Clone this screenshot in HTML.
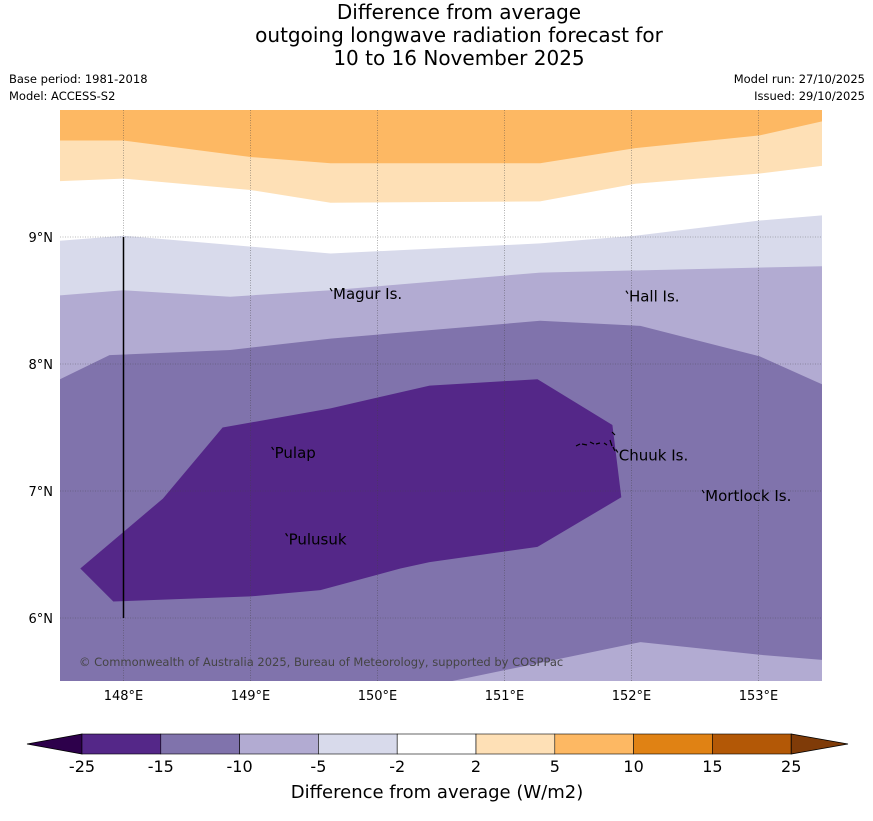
<!DOCTYPE html>
<html><head><meta charset="utf-8"><style>
body{margin:0;background:#fff;font-family:"Liberation Sans",sans-serif;}
svg text{font-family:"DejaVu Sans","Liberation Sans",sans-serif;}
</style></head><body>
<svg width="873" height="816" viewBox="0 0 873 816" xmlns="http://www.w3.org/2000/svg">
<text x="459" y="19" text-anchor="middle" font-size="20">Difference from average</text>
<text x="459" y="42" text-anchor="middle" font-size="20">outgoing longwave radiation forecast for</text>
<text x="459" y="65" text-anchor="middle" font-size="20">10 to 16 November 2025</text>
<text x="9" y="83" font-size="11.5">Base period: 1981-2018</text>
<text x="9" y="100" font-size="11.5">Model: ACCESS-S2</text>
<text x="865" y="83" font-size="11.5" text-anchor="end">Model run: 27/10/2025</text>
<text x="865" y="100" font-size="11.5" text-anchor="end">Issued: 29/10/2025</text>
<defs><clipPath id="mc"><rect x="60" y="110" width="762" height="571"/></clipPath></defs>
<g id="map" clip-path="url(#mc)"></g>
<g id="cbar"></g>
<text x="437" y="798" text-anchor="middle" font-size="18">Difference from average (W/m2)</text>
</svg>
<script>
// contour boundary lines (lon, lat), painted region = above the line
const lineLevels = ["-10", "-5", "-2", "2", "5"];
const lineColors = ["#b2abd2", "#d8daeb", "#ffffff", "#fee0b6", "#fdb863"];
const line_m10 = [[147.5,7.88],[147.89,8.07],[148.84,8.11],[149.63,8.20],[151.28,8.34],[152.07,8.30],[153.01,8.06],[153.5,7.84]];
const line_m5 = [[147.5,8.54],[148,8.58],[148.84,8.53],[149.63,8.58],[151.28,8.72],[153.5,8.77]];
const line_m2 = [[147.5,8.97],[148,9.01],[149.63,8.87],[151.28,8.95],[152.03,9.01],[153.01,9.13],[153.5,9.17]];
const line_p2 = [[147.5,9.44],[148,9.46],[149,9.37],[149.63,9.27],[151.28,9.28],[152.03,9.42],[153.01,9.50],[153.5,9.56]];
const line_p5 = [[147.5,9.76],[148,9.76],[149,9.63],[149.63,9.58],[151.28,9.58],[152.03,9.70],[153.01,9.80],[153.5,9.91]];
const darkPoly = [[147.66,6.39],[147.92,6.13],[149,6.17],[149.55,6.22],[150.18,6.39],[150.41,6.44],[151.26,6.56],[151.92,6.95],[151.85,7.52],[151.26,7.88],[150.41,7.83],[149.63,7.65],[148.78,7.50],[148.31,6.94]];
const bottomLine = [[150.57,5.5],[152.07,5.81],[153.01,5.71],[153.5,5.67]];
const lonTicks = [148,149,150,151,152,153];
const latTicks = [9,8,7,6];
const places = [["Magur Is.",149.65,8.55],["Hall Is.",151.98,8.53],["Pulap",149.19,7.30],["Chuuk Is.",151.90,7.28],["Mortlock Is.",152.58,6.96],["Pulusuk",149.30,6.62]];
const cbLevels = ["-25","-15","-10","-5","-2","2","5","10","15","25"];
const cbColors = ["#542788","#8073ac","#b2abd2","#d8daeb","#ffffff","#fee0b6","#fdb863","#e08214","#b35806"];

const NS="http://www.w3.org/2000/svg";
const X = lon => 60 + (lon-147.5)*127;
const Y = lat => 110 + (10-lat)*127;
const pts = a => a.map(p=>X(p[0]).toFixed(1)+","+Y(p[1]).toFixed(1)).join(" ");
const map=document.getElementById("map");
function mk(tag, attrs, parent){const e=document.createElementNS(NS,tag);for(const k in attrs)e.setAttribute(k,attrs[k]);parent.appendChild(e);return e;}

let r=mk("rect",{x:60,y:110,width:762,height:571,fill:"#8073ac"},map);


const lines=[line_m10,line_m5,line_m2,line_p2,line_p5];
lines.forEach((ln,i)=>{
  const poly=[[147.5,10.1]].concat(ln).concat([[153.6,10.1]]);
  const p=mk("polygon",{points:pts(poly),fill:lineColors[i]},map);
  
  
});
let bp=mk("polygon",{points:pts(bottomLine.concat([[153.6,5.4],[150.5,5.4]])),fill:"#b2abd2"},map);


let dp=mk("polygon",{points:pts(darkPoly),fill:"#542788"},map);



const svg=document.querySelector("svg");
lonTicks.forEach(l=>{
  const g=mk("line",{x1:X(l),x2:X(l),y1:110,y2:681,stroke:"#444","stroke-width":0.6,"stroke-dasharray":"1,1.5",opacity:0.7},map);
  
  
  const t=mk("text",{x:X(l),y:700,"text-anchor":"middle","font-size":13},svg);
  t.textContent=l+"°E";
  
  
});
latTicks.forEach(l=>{
  const g=mk("line",{x1:60,x2:822,y1:Y(l),y2:Y(l),stroke:"#444","stroke-width":0.6,"stroke-dasharray":"1,1.5",opacity:0.7},map);
  
  
  const t=mk("text",{x:53,y:Y(l)+5,"text-anchor":"end","font-size":13},svg);
  t.textContent=l+"°N";
  
  
});
let vl=mk("line",{x1:X(148),x2:X(148),y1:Y(9),y2:Y(6),stroke:"#000","stroke-width":1.5},map);


places.forEach(p=>{
  const d=mk("path",{d:`M${X(p[1])-3},${Y(p[2])-6} l2,3`,stroke:"#000","stroke-width":1.2},map);
  
  
  const t=mk("text",{x:X(p[1]),y:Y(p[2])+5,"font-size":15},map);
  t.textContent=p[0];
  
  
});
let ch=mk("path",{d:"M576,446 l4,-2 M582,444 l5,1 M590,442 l4,2 M596,444 l4,-1 M604,443 l3,2 M610,440 l2,6 M612,432 l3,3 M613,447 l2,4",stroke:"#000","stroke-width":1.2,fill:"none"},map);


let cp=mk("text",{x:79,y:666,"font-size":11.5,fill:"#444"},map);
cp.textContent="© Commonwealth of Australia 2025, Bureau of Meteorology, supported by COSPPac";



const cb=document.getElementById("cbar");
const cx0=82, cw=78.8, cy=734, ch2=20;
let lt=mk("polygon",{points:`${cx0},${cy} ${cx0},${cy+ch2} 27,${cy+ch2/2}`,fill:"#2d004b",stroke:"#000","stroke-width":0.8},cb);


cbColors.forEach((c,i)=>{
  const b=mk("rect",{x:cx0+i*cw,y:cy,width:cw,height:ch2,fill:c,stroke:"#000","stroke-width":0.6},cb);
  
  
});
const xe=cx0+cbColors.length*cw;
let rt=mk("polygon",{points:`${xe},${cy} ${xe},${cy+ch2} 848,${cy+ch2/2}`,fill:"#7f3b08",stroke:"#000","stroke-width":0.8},cb);


cbLevels.forEach((l,i)=>{
  const t=mk("text",{x:cx0+i*cw,y:772,"text-anchor":"middle","font-size":16},cb);
  t.textContent=l;
  
  
});
</script>
</body></html>
